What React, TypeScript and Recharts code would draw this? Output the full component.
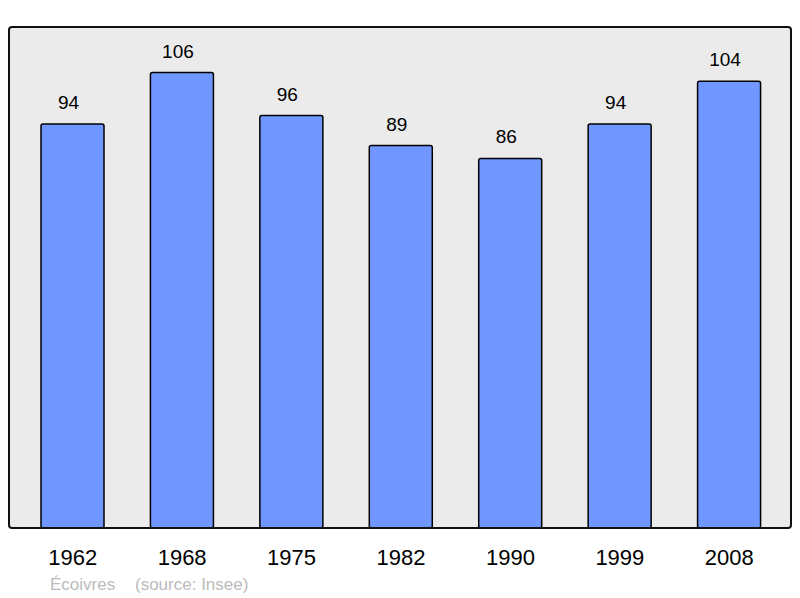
import React from "react";
import {
    BarChart,
    Bar,
    XAxis,
    YAxis,
    CartesianGrid,
    LabelList,
} from "recharts";

// population by census year
const years = ["1962", "1968", "1975", "1982", "1990", "1999", "2008"];
const population = [94, 106, 96, 89, 86, 94, 104];

const commune = "Écoivres";
const source = "(source: Insee)";

const yMax = 116.6;
const font = "'Liberation Sans', Arial, sans-serif";

const data = years.map((y, i) => ({ year: y, pop: population[i] }));

// plot area box (matches chart margins below)
const plot = { left: 9, top: 27, width: 782, height: 501 };

export default function App() {
    return (
        <div
            style={{
                position: "absolute",
                left: 0,
                top: 0,
                width: 800,
                height: 598,
                fontFamily: font,
            }}
        >
            <BarChart
                width={800}
                height={598}
                data={data}
                margin={{ top: plot.top, right: 800 - plot.left - plot.width, bottom: 30, left: plot.left }}
            >
                <CartesianGrid
                    fill="#ebebeb"
                    horizontal={false}
                    vertical={false}
                    stroke="none"
                />
                <XAxis
                    dataKey="year"
                    height={40}
                    padding={{ left: 9, right: 7 }}
                    axisLine={false}
                    tickLine={false}
                    tickSize={0}
                    tickMargin={21}
                    interval={0}
                    tick={{ fontSize: 22, fill: "#000", fontFamily: font }}
                />
                <YAxis hide domain={[0, yMax]} />

                <Bar
                    dataKey="pop"
                    fill="#7096ff"
                    stroke="#000"
                    strokeWidth={1.5}
                    barSize={63}
                    radius={2}
                    isAnimationActive={false}
                >
                    <LabelList
                        dataKey="pop"
                        position="top"
                        offset={15}
                        fontSize={19}
                        fill="#000"
                        fontFamily={font}
                        dx={-4}
                    />
                </Bar>
            </BarChart>

            {/* frame around the plot area */}
            <div
                style={{
                    position: "absolute",
                    boxSizing: "border-box",
                    left: plot.left - 1,
                    top: plot.top - 1,
                    width: plot.width + 2,
                    height: plot.height + 2,
                    border: "2px solid #111",
                    borderRadius: 4,
                    pointerEvents: "none",
                }}
            />

            <div
                style={{
                    position: "absolute",
                    left: 50,
                    top: 576,
                    fontSize: 17,
                    lineHeight: "17px",
                    color: "#bbbbbb",
                    whiteSpace: "nowrap",
                }}
            >
                {commune}
            </div>
            <div
                style={{
                    position: "absolute",
                    left: 135,
                    top: 576,
                    fontSize: 17,
                    lineHeight: "17px",
                    color: "#bbbbbb",
                    whiteSpace: "nowrap",
                }}
            >
                {source}
            </div>
        </div>
    );
}
